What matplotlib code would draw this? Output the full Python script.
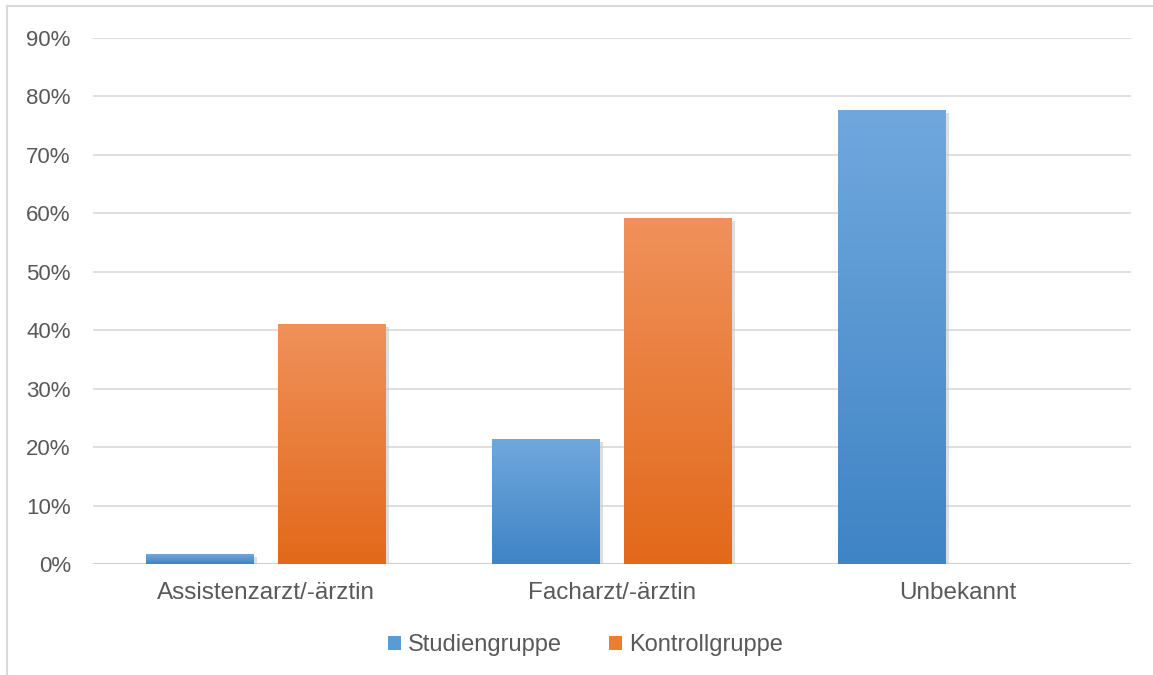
import numpy as np
import matplotlib.pyplot as plt
from matplotlib.colors import LinearSegmentedColormap
from matplotlib.lines import Line2D
from matplotlib.patches import Patch
import matplotlib.patheffects as pe

plt.rcParams['font.family'] = ['Liberation Sans', 'DejaVu Sans']

kategorien = ['Assistenzarzt/-ärztin', 'Facharzt/-ärztin', 'Unbekannt']
studiengruppe = [0.017, 0.214, 0.776]
kontrollgruppe = [0.411, 0.592, 0.0]
ticks = [0, 0.1, 0.2, 0.3, 0.4, 0.5, 0.6, 0.7, 0.8, 0.9]

blau = LinearSegmentedColormap.from_list('blau', ['#3f84c5', '#70a8dd'])
orange = LinearSegmentedColormap.from_list('orange', ['#e2691a', '#f0915b'])

fig = plt.figure(figsize=(11.53, 6.75), dpi=100)
ax = fig.add_axes([93 / 1153, 111 / 675, 1038 / 1153, 526 / 675])

x = np.arange(len(kategorien))
breite = 0.312
abstand = 0.069


def gradient_balken(ax, xs, werte, cmap):
    bars = ax.bar(xs, werte, breite, color='none', zorder=3)
    for b in bars:
        b.set_path_effects([pe.SimplePatchShadow(offset=(2, -2), shadow_rgbFace='#c8c8c8', alpha=0.6)])
        x0, y0 = b.get_x(), b.get_y()
        w, h = b.get_width(), b.get_height()
        if h <= 0:
            continue
        grad = np.linspace(0, 1, 256).reshape(-1, 1)
        im = ax.imshow(grad, cmap=cmap, origin='lower', aspect='auto',
                       extent=(x0, x0 + w, y0, y0 + h), zorder=3.5)
        im.set_clip_path(b)
    return bars


gradient_balken(ax, x - breite / 2 - abstand / 2, studiengruppe, blau)
gradient_balken(ax, x + breite / 2 + abstand / 2, kontrollgruppe, orange)

ax.set_xlim(-0.5, 2.5)
ax.set_ylim(0, 0.9)
ax.set_yticks(ticks)
ax.set_yticklabels([f'{int(round(t * 100))}%' for t in ticks])
ax.set_xticks(x)
ax.set_xticklabels(kategorien)
ax.tick_params(axis='both', length=0, labelcolor='#595959')
ax.tick_params(axis='y', labelsize=16, pad=16)
ax.tick_params(axis='x', labelsize=17.5, pad=13)
ax.grid(axis='y', color='#d9d9d9', linewidth=1.2, zorder=0)
ax.set_axisbelow(True)
for s in ax.spines.values():
    s.set_visible(False)
ax.axhline(0, color='#d0d0d0', linewidth=1.5, zorder=2)

handles = [Patch(facecolor='#5b9bd5'), Patch(facecolor='#ed7d31')]
fig.legend(handles, ['Studiengruppe', 'Kontrollgruppe'], loc='center',
           bbox_to_anchor=(0.508, 1 - 645 / 675), ncol=2, frameon=False,
           fontsize=17, labelcolor='#595959', handlelength=0.55, handleheight=0.55,
           handletextpad=0.3, columnspacing=2.0)

# Rahmen oben und links
fig.add_artist(Line2D([7 / 1153, 1], [1 - 6 / 675, 1 - 6 / 675], color='#d9d9d9', linewidth=1.5))
fig.add_artist(Line2D([7 / 1153, 7 / 1153], [0, 1 - 6 / 675], color='#d9d9d9', linewidth=1.5))

fig.savefig('out.png', dpi=100)
